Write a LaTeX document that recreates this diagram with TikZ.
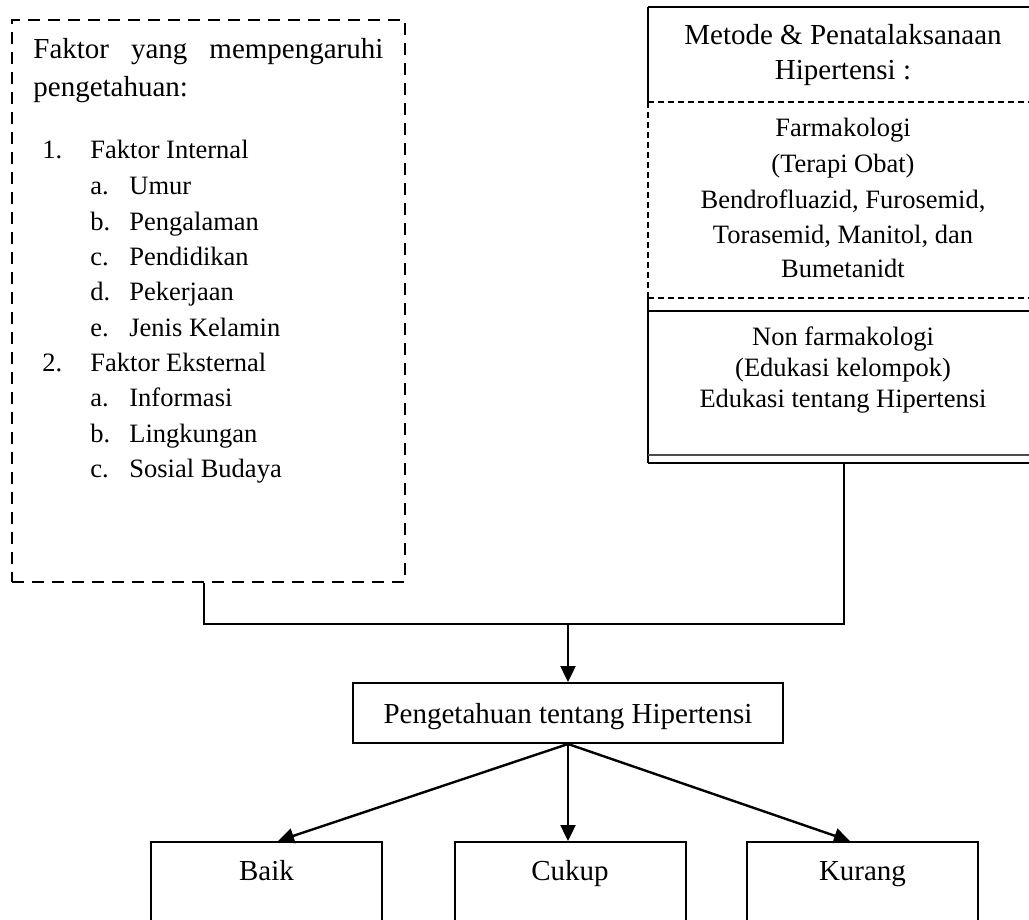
\documentclass[tikz,border=0pt]{standalone}
\usepackage{fontspec}
\setmainfont{Liberation Serif}
\usetikzlibrary{calc,arrows.meta}
\begin{document}
\begin{tikzpicture}[x=0.5pt,y=-0.5pt,
  txt/.style={inner sep=0pt,anchor=base,font=\fontsize{13.25pt}{16pt}\selectfont},
  htxt/.style={txt,font=\fontsize{14.5pt}{17pt}\selectfont},
  ltxt/.style={txt,anchor=base west},
  lhtxt/.style={htxt,anchor=base west},
  box/.style={draw,line width=1pt,inner sep=0pt},
  lbox/.style={box,font=\fontsize{14.5pt}{17pt}\selectfont,minimum width=115.5pt,text height=19pt,text depth=28pt,anchor=north},
  conn/.style={line width=1pt},
  arr/.style={line width=1.2pt,-{Triangle[length=8pt,width=7.5pt]}},
  thindash/.style={line width=0.6pt,dash pattern=on 3pt off 2pt}]
\clip (0,0) rectangle (1029,920);
\fill[white] (0,0) rectangle (1029,920);

% left dashed box
\node[box,dash pattern=on 6pt off 4pt,minimum width=196.5pt,minimum height=281pt] (faktor) at (208.5,301) {};
\node[lhtxt] (f1) at (33,59) {\makebox[175pt][s]{Faktor yang mempengaruhi}};
\node[lhtxt] (f2) at (33,97) {pengetahuan:};
\node[ltxt] (n1) at (42,159) {1.};
\node[ltxt] (i1) at (90,159) {Faktor Internal};
\node[ltxt] (la) at (90,195) {a.};
\node[ltxt] (ia) at (129,195) {Umur};
\node[ltxt] (lb) at (90,230) {b.};
\node[ltxt] (ib) at (129,230) {Pengalaman};
\node[ltxt] (lc) at (90,265) {c.};
\node[ltxt] (ic) at (129,265) {Pendidikan};
\node[ltxt] (ld) at (90,300) {d.};
\node[ltxt] (id) at (129,300) {Pekerjaan};
\node[ltxt] (le) at (90,336) {e.};
\node[ltxt] (ie) at (129,336) {Jenis Kelamin};
\node[ltxt] (n2) at (42,371) {2.};
\node[ltxt] (i2) at (90,371) {Faktor Eksternal};
\node[ltxt] (ma) at (90,406) {a.};
\node[ltxt] (ja) at (129,406) {Informasi};
\node[ltxt] (mb) at (90,442) {b.};
\node[ltxt] (jb) at (129,442) {Lingkungan};
\node[ltxt] (mc) at (90,477) {c.};
\node[ltxt] (jc) at (129,477) {Sosial Budaya};

% right box
\node[inner sep=0pt,minimum width=196pt,minimum height=228pt] (metode) at (844,235) {};
\draw[line width=1pt] (648,7) -- (1040,7);
\draw[line width=1pt] (648,7) -- (648,102);
\draw[thindash] (648,102) -- (648,298);
\draw[line width=1pt] (648,298) -- (648,463);
\draw[thindash] (648,102) -- (1040,102);
\draw[thindash] (648,298) -- (1040,298);
\draw[line width=0.8pt] (648,311) -- (1040,311);
\draw[line width=0.6pt,black!70] (648,455) -- (1040,455);
\draw[line width=1pt] (metode.south west) -- (metode.south east);

\node[htxt] (m1) at (843,45) {Metode \& Penatalaksanaan};
\node[htxt] (m2) at (843,80) {Hipertensi :};
\node[txt] (m3) at (843,137) {Farmakologi};
\node[txt] (m4) at (843,173) {(Terapi Obat)};
\node[txt] (m5) at (843,209) {Bendrofluazid, Furosemid,};
\node[txt] (m6) at (843,243) {Torasemid, Manitol, dan};
\node[txt] (m7) at (843,278) {Bumetanidt};
\node[txt] (m8) at (843,345) {Non farmakologi};
\node[txt] (m9) at (843,376) {(Edukasi kelompok)};
\node[txt] (m10) at (843,407) {Edukasi tentang Hipertensi};

% middle box
\node[box,font=\fontsize{14.5pt}{17pt}\selectfont,minimum width=215pt,text height=20pt,text depth=10pt,anchor=north] (mid) at (568,682) {Pengetahuan tentang Hipertensi};

% bottom boxes
\node[lbox] (baik) at (266.5,841) {Baik};
\node[lbox] (cukup) at (570,841) {Cukup};
\node[lbox] (kurang) at (862.5,841) {Kurang};

% connectors
\coordinate (j) at (568,624);
\draw[conn] ($(faktor.south)+(-4.5,0)$) coordinate (a) -- (a |- j) -- (metode.south |- j) -- (metode.south);
\draw[arr] (j) -- (mid.north);
\draw[arr] (mid.south) -- ($(baik.north)+(11.5,0)$);
\draw[arr] (mid.south) -- ($(cukup.north)+(-2,0)$);
\draw[arr] (mid.south) -- ($(kurang.north)+(-12.5,0)$);
\end{tikzpicture}
\end{document}
